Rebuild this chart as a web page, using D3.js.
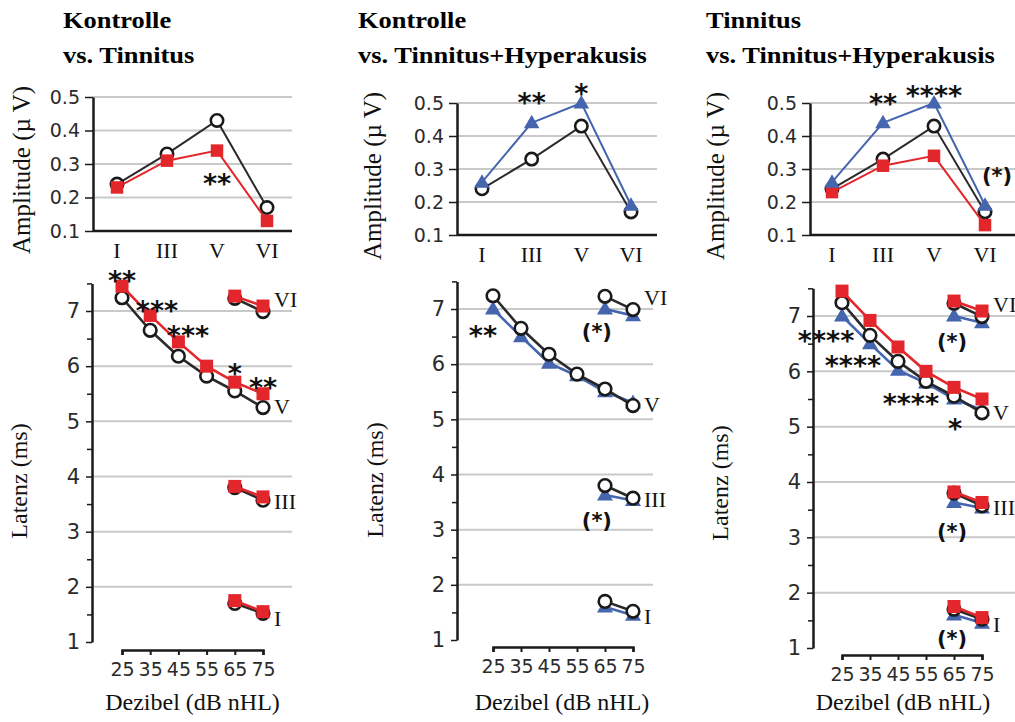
<!DOCTYPE html>
<html><head><meta charset="utf-8">
<script src="https://cdn.jsdelivr.net/npm/d3@7"></script>
<style>body{margin:0;background:#fff} svg{display:block}</style>
</head><body>
<svg id="chart" width="1015" height="722"></svg>
<script>
// ---- Amplitudes (µV) of ABR waves ----
const waves = ["I", "III", "V", "VI"];
const ampTicks = [0.1, 0.2, 0.3, 0.4, 0.5];
const ampKontrolle = [0.24, 0.33, 0.43, 0.17];
const ampTinnitus  = [0.23, 0.31, 0.34, 0.13];
const ampTinHyp    = [0.26, 0.44, 0.50, 0.19];

// ---- Latencies (ms) ----
const levels = [25, 35, 45, 55, 65, 75];      // wave V measured at all levels
const levelsHigh = [65, 75];                  // waves I, III, VI
const latTicks = [1, 2, 3, 4, 5, 6, 7];

const latKontrolleV   = [7.24, 6.65, 6.18, 5.82, 5.55, 5.25];
const latKontrolleVI  = [7.23, 6.99];
const latKontrolleIII = [3.80, 3.57];
const latKontrolleI   = [1.70, 1.52];

const latTinnitusV   = [7.45, 6.92, 6.44, 6.00, 5.71, 5.50];
const latTinnitusVI  = [7.27, 7.09];
const latTinnitusIII = [3.82, 3.63];
const latTinnitusI   = [1.75, 1.55];

const latTinHypV   = [7.00, 6.50, 6.02, 5.79, 5.50, 5.30];
const latTinHypVI  = [7.00, 6.88];
const latTinHypIII = [3.63, 3.53];
const latTinHypI   = [1.60, 1.45];

// wave names written beside the latency curves, at these latencies
const waveLabelLat = { VI: 7.22, V: 5.27, III: 3.55, I: 1.44 };

// ---- Significance marks (wave / level, value) ----
const sigAmp1 = [{ w: "V", v: 0.258, t: "**" }];
const sigLat1 = [
  { d: 25, v: 7.65, t: "**" }, { d: 37.4, v: 7.11, t: "***" },
  { d: 48.4, v: 6.66, t: "***" }, { d: 65, v: 5.97, t: "*" }, { d: 75, v: 5.71, t: "**" }
];
const sigAmp2 = [{ w: "III", v: 0.518, t: "**" }, { w: "V", v: 0.545, t: "*" }];
const sigLat2 = [
  { d: 21.4, v: 6.62, t: "**" }, { d: 62.1, v: 6.58, t: "(*)" }, { d: 62.1, v: 3.15, t: "(*)" }
];
const sigAmp3 = [
  { w: "III", v: 0.515, t: "**" }, { w: "V", v: 0.54, t: "****" }, { w: "VI", dx: 12, v: 0.276, t: "(*)" }
];
const sigLat3 = [
  { d: 19.3, v: 6.66, t: "****" }, { d: 28.9, v: 6.20, t: "****" },
  { d: 49.6, v: 5.52, t: "****" }, { d: 65.4, v: 5.07, t: "*" },
  { d: 64.3, v: 6.53, t: "(*)" }, { d: 64.3, v: 3.08, t: "(*)" }, { d: 64.3, v: 1.15, t: "(*)" }
];

// ---- Styles ----
const RED = "#e2262c", BLUE = "#4565ae", DARK = "#1a1a1a", GRID = "#c9c9c9";
const SERIF = "'Liberation Serif','Times New Roman',serif";
const SANS = "'DejaVu Sans',sans-serif";

const groups = {
  K: { name: "Kontrolle", marker: "circle", line: "#2a2a2a",
       amp: ampKontrolle, V: latKontrolleV, VI: latKontrolleVI, III: latKontrolleIII, I: latKontrolleI },
  T: { name: "Tinnitus", marker: "square", line: RED,
       amp: ampTinnitus, V: latTinnitusV, VI: latTinnitusVI, III: latTinnitusIII, I: latTinnitusI },
  H: { name: "Tinnitus+Hyperakusis", marker: "triangle", line: BLUE,
       amp: ampTinHyp, V: latTinHypV, VI: latTinHypVI, III: latTinHypIII, I: latTinHypI }
};

const svg = d3.select("#chart");

function drawMarker(g, type, x, y, big) {
  if (type === "circle") {
    g.append("circle").attr("cx", x).attr("cy", y).attr("r", big ? 6.3 : 6.2)
      .attr("fill", "#fff").attr("stroke", DARK).attr("stroke-width", 2.6);
  } else if (type === "square") {
    const s = big ? 13 : 12.5;
    g.append("rect").attr("x", x - s / 2).attr("y", y - s / 2).attr("width", s).attr("height", s)
      .attr("fill", RED);
  } else {
    g.append("path").attr("d", d3.symbol(d3.symbolTriangle, big ? 110 : 105)())
      .attr("transform", `translate(${x},${y + 1})`).attr("fill", BLUE);
  }
}

function drawSig(g, list, xf, yf) {
  list.forEach(s => {
    const paren = s.t.startsWith("(");
    const fs = paren ? 21 : 27;
    g.append("text")
      .attr("x", xf(s) + (s.dx || 0))
      .attr("y", yf(s) + (paren ? 0.31 : 0.55) * fs)
      .attr("text-anchor", "middle").attr("font-family", SANS).attr("font-weight", "bold")
      .attr("font-size", fs).attr("fill", "#111").text(s.t);
  });
}

function drawPanel(p) {
  const g = svg.append("g");

  // title (two bold lines)
  const t = g.append("text").attr("transform", `translate(${p.titleX},0) scale(1.15,1)`)
    .attr("font-family", SERIF).attr("font-weight", "bold").attr("font-size", 23).attr("fill", "#000");
  t.append("tspan").attr("x", 0).attr("y", 28).text(p.title[0]);
  t.append("tspan").attr("x", 0).attr("y", 63).text(p.title[1]);

  // ---------- amplitude chart ----------
  const A = p.amp;
  const xA = d3.scalePoint().domain(waves).range([A.x0, A.x1]);
  const yA = d3.scaleLinear().domain([0.1, 0.5]).range([A.yb, A.yt]);
  const ga = g.append("g");

  ga.selectAll("line.grid").data(ampTicks.slice(1)).join("line")
    .attr("x1", A.axisX).attr("x2", A.gridR).attr("y1", d => yA(d)).attr("y2", d => yA(d))
    .attr("stroke", GRID).attr("stroke-width", 2);
  ga.append("line").attr("x1", A.axisX).attr("x2", A.gridR).attr("y1", yA(0.1)).attr("y2", yA(0.1))
    .attr("stroke", DARK).attr("stroke-width", 2.5);

  const ayAxis = ga.append("g").attr("transform", `translate(${A.axisX},0)`)
    .call(d3.axisLeft(yA).tickValues(ampTicks).tickFormat(d3.format(".1f")).tickSize(8).tickSizeOuter(0).tickPadding(5));
  ayAxis.select(".domain").attr("stroke", DARK).attr("stroke-width", 2.5);
  ayAxis.selectAll(".tick line").attr("stroke", DARK).attr("stroke-width", 1.5);
  ayAxis.selectAll(".tick text").attr("font-family", SANS).attr("font-size", 19).attr("fill", "#2b2b2b");

  ga.selectAll("text.wave").data(waves).join("text")
    .attr("x", d => xA(d)).attr("y", A.yb + 27).attr("text-anchor", "middle")
    .attr("font-family", SERIF).attr("font-size", 22).attr("fill", "#111").text(d => d);

  ga.append("text").attr("transform", `translate(${A.labelX},${A.labelY}) rotate(-90)`)
    .attr("text-anchor", "middle").attr("font-family", SERIF).attr("font-size", 25).attr("fill", "#111")
    .text("Amplitude (µ V)");

  const lineA = d3.line().x((d, i) => xA(waves[i])).y(d => yA(d));
  p.ampOrder.forEach(k => {
    const s = groups[k];
    ga.append("path").attr("d", lineA(s.amp)).attr("fill", "none")
      .attr("stroke", s.line).attr("stroke-width", 2);
    s.amp.forEach((v, i) => drawMarker(ga, s.marker, xA(waves[i]), yA(v), false));
  });
  drawSig(ga, p.sigAmp, s => xA(s.w), s => yA(s.v));

  // ---------- latency chart ----------
  const L = p.lat;
  const unit = (L.y1 - L.y7) / 6;
  const yL = d3.scaleLinear().domain([1, 7.5]).range([L.y1, L.y7 - unit / 2]);
  const xL = d3.scaleLinear().domain([25, 75]).range([L.d0, L.d1]);
  const gl = g.append("g");

  gl.selectAll("line.grid").data(latTicks.slice(1)).join("line")
    .attr("x1", L.axisX).attr("x2", L.gridR).attr("y1", d => yL(d)).attr("y2", d => yL(d))
    .attr("stroke", GRID).attr("stroke-width", 2);

  const minor = gl.append("g").attr("transform", `translate(${L.axisX},0)`)
    .call(d3.axisLeft(yL).tickValues(d3.range(1.5, 7.6, 1)).tickFormat("").tickSize(5).tickSizeOuter(0));
  minor.select(".domain").remove();
  minor.selectAll(".tick line").attr("stroke", DARK).attr("stroke-width", 1.5);

  const lyAxis = gl.append("g").attr("transform", `translate(${L.axisX},0)`)
    .call(d3.axisLeft(yL).tickValues(latTicks).tickFormat(d3.format("d")).tickSize(6).tickSizeOuter(0).tickPadding(6));
  lyAxis.select(".domain").attr("stroke", DARK).attr("stroke-width", 2.5);
  lyAxis.selectAll(".tick line").attr("stroke", DARK).attr("stroke-width", 1.5);
  lyAxis.selectAll(".tick text").attr("font-family", SANS).attr("font-size", 21).attr("fill", "#2b2b2b");

  const lxAxis = gl.append("g").attr("transform", `translate(0,${L.dy})`)
    .call(d3.axisBottom(xL).tickValues(levels).tickSize(5).tickSizeOuter(5).tickPadding(8));
  lxAxis.select(".domain").attr("stroke", DARK).attr("stroke-width", 2.5);
  lxAxis.selectAll(".tick line").attr("stroke", DARK).attr("stroke-width", 2);
  lxAxis.selectAll(".tick text").attr("font-family", SANS).attr("font-size", 19).attr("fill", "#2b2b2b");

  gl.append("text").attr("transform", `translate(${L.labelX},${L.labelY}) rotate(-90)`)
    .attr("text-anchor", "middle").attr("font-family", SERIF).attr("font-size", 24).attr("fill", "#111")
    .text("Latenz (ms)");
  gl.append("text").attr("x", (L.d0 + L.d1) / 2 + L.xLabelShift).attr("y", 710).attr("text-anchor", "middle")
    .attr("font-family", SERIF).attr("font-size", 24).attr("fill", "#111").text("Dezibel (dB nHL)");

  const lineL = xs => d3.line().x((d, i) => xL(xs[i])).y(d => yL(d));
  p.latOrder.forEach(k => {
    const s = groups[k];
    [["V", levels], ["VI", levelsHigh], ["III", levelsHigh], ["I", levelsHigh]].forEach(([w, xs]) => {
      gl.append("path").attr("d", lineL(xs)(s[w])).attr("fill", "none")
        .attr("stroke", s.line).attr("stroke-width", 2.6);
      s[w].forEach((v, i) => drawMarker(gl, s.marker, xL(xs[i]), yL(v), true));
    });
  });

  Object.entries(waveLabelLat).forEach(([w, v]) => {
    gl.append("text").attr("x", xL(75) + 11).attr("y", yL(v) + 8)
      .attr("font-family", SERIF).attr("font-size", 22).attr("fill", "#111").text(w);
  });

  drawSig(gl, p.sigLat, s => xL(s.d), s => yL(s.v));
}

drawPanel({
  title: ["Kontrolle", "vs. Tinnitus"], titleX: 63,
  amp: { axisX: 93, x0: 117, x1: 267, yb: 231, yt: 97, gridR: 292, labelX: 30, labelY: 170 },
  lat: { axisX: 92, y1: 642, y7: 311, gridR: 292, d0: 122, d1: 263, dy: 650, labelX: 27, labelY: 481, xLabelShift: 0 },
  ampOrder: ["K", "T"], latOrder: ["K", "T"], sigAmp: sigAmp1, sigLat: sigLat1
});
drawPanel({
  title: ["Kontrolle", "vs. Tinnitus+Hyperakusis"], titleX: 358,
  amp: { axisX: 457, x0: 482, x1: 631, yb: 235, yt: 103, gridR: 657, labelX: 381, labelY: 176 },
  lat: { axisX: 457, y1: 640, y7: 309, gridR: 653, d0: 493, d1: 633, dy: 647, labelX: 383, labelY: 480, xLabelShift: -1 },
  ampOrder: ["K", "H"], latOrder: ["H", "K"], sigAmp: sigAmp2, sigLat: sigLat2
});
drawPanel({
  title: ["Tinnitus", "vs. Tinnitus+Hyperakusis"], titleX: 706,
  amp: { axisX: 810, x0: 832, x1: 985, yb: 235, yt: 103, gridR: 1015, labelX: 724, labelY: 176 },
  lat: { axisX: 813, y1: 648, y7: 316, gridR: 1015, d0: 842, d1: 982, dy: 655, labelX: 728, labelY: 483, xLabelShift: -9 },
  ampOrder: ["K", "T", "H"], latOrder: ["H", "K", "T"], sigAmp: sigAmp3, sigLat: sigLat3
});
</script>
</body></html>
